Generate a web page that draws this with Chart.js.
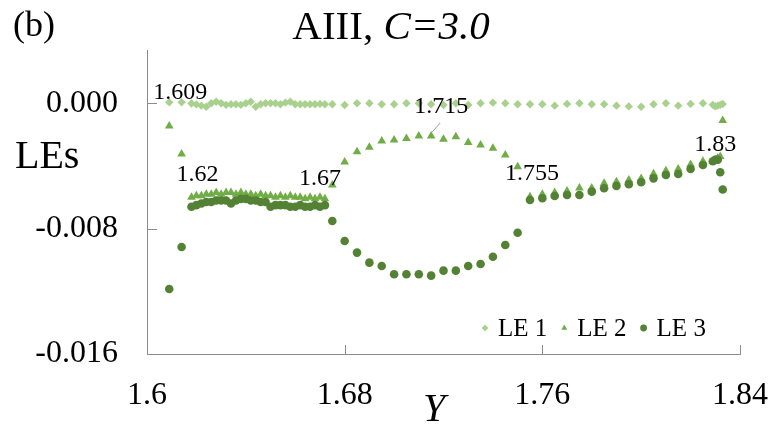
<!DOCTYPE html>
<html>
<head>
<meta charset="utf-8">
<script src="https://cdn.jsdelivr.net/npm/chart.js@4.4.1/dist/chart.umd.min.js"></script>
<style>
  html, body { margin: 0; padding: 0; background: #fff; }
  #wrap { width: 775px; height: 427px; }
</style>
</head>
<body>
<div id="wrap"><canvas id="chartLE" width="775" height="427"></canvas></div>
<script>
'use strict';
/* ============================================================
   Lyapunov exponents vs Y  —  AIII, C = 3.0
   ============================================================ */

// ── Data ────────────────────────────────────────────────────
const yParam = [
  1.609, 1.614,
  1.618, 1.620, 1.622, 1.624, 1.626, 1.628, 1.630, 1.632, 1.634, 1.636,
  1.638, 1.640, 1.642, 1.644, 1.646, 1.648, 1.650, 1.652, 1.654, 1.656,
  1.658, 1.660, 1.662, 1.664, 1.666, 1.668, 1.670, 1.672,
  1.675, 1.680, 1.685, 1.690, 1.695, 1.700, 1.705, 1.710, 1.715, 1.720,
  1.725, 1.730, 1.735, 1.740, 1.745, 1.750, 1.755, 1.760, 1.765, 1.770,
  1.775, 1.780, 1.785, 1.790, 1.795, 1.800, 1.805, 1.810, 1.815, 1.820, 1.825,
  1.829, 1.830, 1.831, 1.832, 1.833
];

const le1 = [
  0.00006, 0.00006,
  -0.00001, -0.00007, -0.00015, -0.00022, 0.00000, 0.00010, 0.00000, -0.00010, -0.00006, -0.00006,
  -0.00010, 0.00000, 0.00010, -0.00022, -0.00006, 0.00000, 0.00000, 0.00000, -0.00006, 0.00004,
  0.00010, -0.00006, -0.00006, -0.00006, -0.00006, -0.00006, -0.00004, -0.00006,
  -0.00006, -0.00011, 0.00000, 0.00000, -0.00006, -0.00006, 0.00000, 0.00000, -0.00006, -0.00011,
  0.00000, -0.00011, 0.00000, 0.00004, 0.00000, -0.00006, -0.00006, -0.00006, -0.00015, -0.00004,
  0.00000, -0.00006, -0.00006, -0.00015, -0.00020, -0.00022, -0.00006, 0.00000, -0.00015, -0.00004, 0.00000,
  -0.00010, -0.00020, -0.00015, -0.00010, -0.00005
];

const le2 = [
  -0.00145, -0.00324,
  -0.0060, -0.0059, -0.0059, -0.0058, -0.0058, -0.0057, -0.0058, -0.0057, -0.0057, -0.0058,
  -0.0057, -0.0058, -0.0058, -0.0059, -0.0058, -0.0059, -0.0059, -0.0060, -0.0059, -0.0060,
  -0.0059, -0.0060, -0.0060, -0.0061, -0.0060, -0.0061, -0.0060, -0.0061,
  -0.00521, -0.00375, -0.00309, -0.00281, -0.00241, -0.00234, -0.00224, -0.00209, -0.00209, -0.00230,
  -0.00213, -0.00251, -0.00266, -0.00287, -0.00330, -0.00405, -0.00596, -0.00580, -0.00570, -0.00560,
  -0.00540, -0.00540, -0.00510, -0.00500, -0.00490, -0.00480, -0.00450, -0.00430, -0.00420, -0.00390, -0.00370,
  -0.00370, -0.00360, -0.00350, -0.00340, -0.00110
];

const le3 = [
  -0.01185, -0.00917,
  -0.0066, -0.0065, -0.0064, -0.0063, -0.0063, -0.0062, -0.0062, -0.0062, -0.0064, -0.0062,
  -0.0061, -0.0061, -0.0062, -0.0062, -0.0063, -0.0063, -0.0066, -0.0065, -0.0065, -0.0065,
  -0.0066, -0.0066, -0.0065, -0.0066, -0.0066, -0.0065, -0.0066, -0.0065,
  -0.00751, -0.00879, -0.00953, -0.01017, -0.01038, -0.01091, -0.01091, -0.01091, -0.01100, -0.01068,
  -0.01068, -0.01038, -0.01026, -0.00979, -0.00904, -0.00826, -0.00617, -0.00606, -0.00592, -0.00585,
  -0.00585, -0.00564, -0.00542, -0.00528, -0.00517, -0.00504, -0.00479, -0.00458, -0.00451, -0.00419, -0.00394,
  -0.00370, -0.00360, -0.00360, -0.00440, -0.00550
];

const seriesNames = ['LE 1', 'LE 2', 'LE 3'];
const xTicks = [1.6, 1.68, 1.76, 1.84];
const yTicks = [-0.016, -0.008, 0];

// marks tagged with their Y value: [series index, Y]
const tagged = [[0, 1.609], [1, 1.62], [1, 1.67], [1, 1.715], [1, 1.755], [2, 1.83]];

// ── Style ───────────────────────────────────────────────────
const SERIF  = '"Liberation Serif", "Times New Roman", serif';
const AXIS   = '#8c8c8c';
const COLORS = ['#a9d18e', '#70ad47', '#548235'];
const STYLES = ['rectRot', 'triangle', 'circle'];
const RADII  = [4.2, 5, 4.3];
const tagOffsets = [[11, -10], [1, -21], [0, -19], [10, -29], [2, -23], [0, -15]];

const toPoints = vals => vals.map((v, i) => ({ x: yParam[i], y: v }));

const datasets = [le1, le2, le3].map((vals, s) => ({
  label: seriesNames[s],
  data: toPoints(vals),
  pointStyle: STYLES[s],
  pointRadius: RADII[s],
  pointHoverRadius: RADII[s],
  backgroundColor: COLORS[s],
  borderColor: COLORS[s],
  borderWidth: 0,
  showLine: false,
  order: 3 - s
}));

// ── Texts, inner ticks, tags and legend ─────────────────────
const decor = {
  id: 'decor',
  afterDraw(chart) {
    const { ctx, chartArea: a, scales: { x, y } } = chart;
    ctx.save();

    // inward tick marks
    ctx.strokeStyle = AXIS;
    ctx.lineWidth = 1;
    ctx.beginPath();
    yTicks.forEach(v => {
      const py = Math.round(y.getPixelForValue(v)) + 0.5;
      ctx.moveTo(a.left, py); ctx.lineTo(a.left + 10, py);
    });
    xTicks.forEach(v => {
      const px = Math.round(x.getPixelForValue(v)) + 0.5;
      ctx.moveTo(px, a.bottom); ctx.lineTo(px, a.bottom - 9);
    });
    ctx.stroke();

    ctx.fillStyle = '#000';
    ctx.textBaseline = 'alphabetic';

    // panel letter
    ctx.font = `36px ${SERIF}`;
    ctx.textAlign = 'left';
    ctx.fillText('(b)', 13, 36);

    // title: upright part + italic part, centred together
    const tSize = 41;
    ctx.font = `${tSize}px ${SERIF}`;
    const part1 = 'AIII, ';
    const w1 = ctx.measureText(part1).width;
    ctx.font = `italic ${tSize}px ${SERIF}`;
    const part2 = 'C=3.0';
    const w2 = ctx.measureText(part2).width;
    const tx = 391 - (w1 + w2) / 2;
    ctx.font = `${tSize}px ${SERIF}`;
    ctx.fillText(part1, tx, 39);
    ctx.font = `italic ${tSize}px ${SERIF}`;
    ctx.fillText(part2, tx + w1, 39);

    // axis titles
    ctx.font = `40px ${SERIF}`;
    ctx.fillText('LEs', 15, 168);
    ctx.font = `italic 40px ${SERIF}`;
    ctx.textAlign = 'center';
    ctx.fillText('Y', 434, 421);

    // value tags on marks
    ctx.font = `24px ${SERIF}`;
    ctx.textBaseline = 'middle';
    tagged.forEach(([s, yv], k) => {
      const i = yParam.indexOf(yv);
      const pt = chart.getDatasetMeta(s).data[i];
      if (!pt) return;
      const [dx, dy] = tagOffsets[k];
      ctx.fillStyle = '#000';
      ctx.fillText(String(yv), pt.x + dx, pt.y + dy);
      if (yv === 1.715) {
        ctx.strokeStyle = '#7f7f7f';
        ctx.lineWidth = 0.8;
        ctx.beginPath();
        ctx.moveTo(pt.x + 1, pt.y - 4);
        ctx.lineTo(pt.x + 9, pt.y - 13);
        ctx.stroke();
      }
    });

    // legend, bottom right inside the plot
    ctx.font = `25px ${SERIF}`;
    ctx.textAlign = 'left';
    let lx = 485;
    const ly = a.bottom - 26;
    chart.data.datasets.forEach((ds, s) => {
      ctx.fillStyle = COLORS[s];
      Chart.helpers.drawPoint(ctx, {
        pointStyle: STYLES[s], radius: 3.4, rotation: 0, borderWidth: 0
      }, lx, ly);
      ctx.fillStyle = '#000';
      ctx.fillText(ds.label, lx + 13, ly + 1);
      lx += 13 + ctx.measureText(ds.label).width + 17;
    });

    ctx.restore();
  }
};

new Chart(document.getElementById('chartLE').getContext('2d'), {
  type: 'scatter',
  data: { datasets },
  options: {
    responsive: false,
    animation: false,
    events: [],
    layout: { padding: { top: 50, right: 35, left: 0, bottom: 0 } },
    plugins: {
      legend: { display: false },
      tooltip: { enabled: false },
      title: { display: false }
    },
    scales: {
      x: {
        type: 'linear',
        min: 1.6,
        max: 1.84,
        afterBuildTicks: scale => { scale.ticks = xTicks.map(v => ({ value: v })); },
        afterFit: scale => {
          scale.height = 73;
          scale.paddingLeft = 0;
          scale.paddingRight = 0;
        },
        grid: { display: false, drawTicks: false },
        border: { display: true, color: AXIS, width: 1 },
        ticks: {
          color: '#000',
          padding: 22,
          maxRotation: 0,
          autoSkip: false,
          font: { family: SERIF, size: 32 },
          callback: v => String(v)
        }
      },
      y: {
        type: 'linear',
        min: -0.016,
        max: 0.0034,
        afterBuildTicks: scale => { scale.ticks = yTicks.map(v => ({ value: v })); },
        afterFit: scale => {
          scale.width = 147;
          scale.paddingTop = 0;
          scale.paddingBottom = 0;
        },
        grid: { display: false, drawTicks: false },
        border: { display: true, color: AXIS, width: 1 },
        ticks: {
          color: '#000',
          padding: 29,
          autoSkip: false,
          font: { family: SERIF, size: 32 },
          callback: v => (Math.abs(v) < 1e-12 ? 0 : v).toFixed(3)
        }
      }
    }
  },
  plugins: [decor]
});
</script>
</body>
</html>
